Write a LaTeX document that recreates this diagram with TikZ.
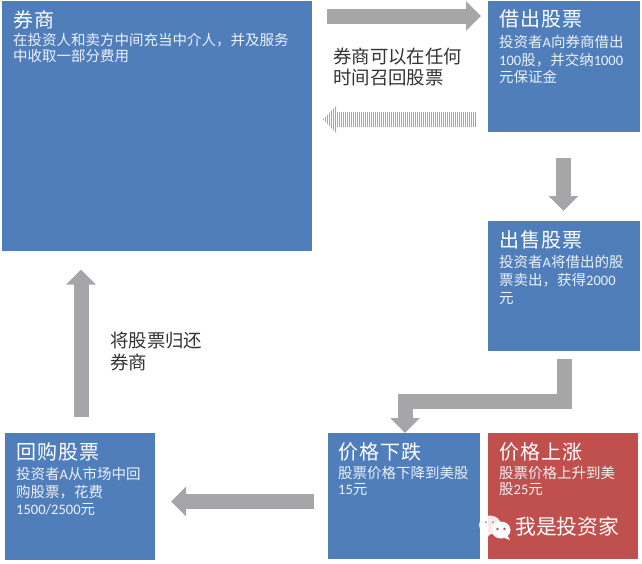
\documentclass[tikz,border=0pt]{standalone}
\usepackage{fontspec}
\setmainfont{Noto Sans CJK SC}
\newfontfamily\latinf{Carlito}
\usetikzlibrary{arrows.meta}
\definecolor{boxblue}{RGB}{79,126,187}
\definecolor{boxred}{RGB}{192,80,77}
\definecolor{arrowgray}{RGB}{166,166,168}
\newcommand{\lat}[1]{{\latinf #1}}
\newcommand{\ttl}[1]{{\fontsize{20}{22}\selectfont\addfontfeature{LetterSpace=5}\color{white}#1\par}}
% width, height, leading, title, body
\newcommand{\panelbody}[5]{\begin{minipage}[t][#2pt][t]{#1pt}\setlength{\parindent}{0pt}\vspace{9pt}\ttl{#4}\vspace{3pt}\fontsize{14.5}{#3}\selectfont\color{white!90!boxblue}#5\par\end{minipage}}
\tikzset{
  x=1pt,y=-1pt,
  panel/.style={anchor=north west,fill=boxblue,inner xsep=11pt,inner ysep=0pt,align=left},
  redpanel/.style={panel,fill=boxred},
  flow/.style={draw=arrowgray,line width=15pt,line join=miter,-{Triangle[length=15pt,width=29pt]}},
  lbl/.style={anchor=north west,align=left,text=black!80,inner sep=0pt},
  wm/.style={anchor=west,text=white,inner sep=0pt,font=\fontsize{20.8}{22}\selectfont}
}
\begin{document}
\begin{tikzpicture}
\useasboundingbox (0,0) rectangle (642,563);
\node[panel] (broker) at (2,1) {\panelbody{288}{250}{15.7}{券商}{在投资人和卖方中间充当中介人，并及服务\\中收取一部分费用}};
\node[panel] (borrow) at (488,1) {\panelbody{130}{131}{17.6}{借出股票}{投资者\lat{A}向券商借出\\\lat{100}股，并交纳\lat{1000}\\元保证金}};
\node[panel] (sell) at (488,221) {\panelbody{130}{130}{17.8}{出售股票}{投资者\lat{A}将借出的股\\票卖出，获得\lat{2000}\\元}};
\node[panel,inner xsep=10pt] (fall) at (328,433) {\panelbody{132}{126}{16.2}{价格下跌}{股票价格下降到美股\\\lat{15}元}};
\node[redpanel] (rise) at (488,433) {\panelbody{128}{126}{16.2}{价格上涨}{股票价格上升到美\\股\lat{25}元}};
\node[panel] (buy) at (5,433) {\panelbody{128}{127}{17.6}{回购股票}{投资者\lat{A}从市场中回\\购股票，花费\\\lat{1500/2500}元}};
\node[lbl,font=\fontsize{18.4}{20.5}\selectfont] (recall) at (333,48) {券商可以在任何\\时间召回股票};
\node[lbl,font=\fontsize{18.4}{22}\selectfont] (ret) at (110,332) {将股票归还\\券商};
\node[wm] (mark) at (515,527) {我是投资家};
\coordinate (a1) at (327,16); \coordinate (a2) at (481,16);
\coordinate (b1) at (476,119.5); \coordinate (b2) at (323,119.5);
\coordinate (c1) at (563.5,158); \coordinate (c2) at (563.5,211);
\coordinate (d1) at (564,359); \coordinate (d2) at (564,401); \coordinate (d3) at (405,401); \coordinate (d4) at (405,433);
\coordinate (e1) at (314,501.5); \coordinate (e2) at (171,501.5);
\coordinate (f1) at (81,417); \coordinate (f2) at (81,269.5);
\draw[flow] (a1) -- (a2);
\draw[flow] (c1) -- (c2);
\draw[flow] (d1) -- (d2) -- (d3) -- (d4);
\draw[flow] (e1) -- (e2);
\draw[flow] (f1) -- (f2);
\begin{scope}
  \clip (476,112) -- (337,112) -- (337,105) -- (323,119.5) -- (337,134) -- (337,127) -- (476,127) -- cycle;
  \draw[arrowgray,line width=30pt,dash pattern=on 1pt off 1pt] (b1) -- (b2);
\end{scope}
\fill[white,opacity=.88] (490,525) ellipse (11pt and 9.5pt);
\fill[white,opacity=.88] (483,532) -- (486,539) -- (491,533) -- cycle;
\fill[white] (501,530) ellipse (9.5pt and 8.5pt);
\fill[white] (507,535) -- (510,540) -- (502,537) -- cycle;
\fill[boxred] (497.5,529) circle (1.3pt) (504.5,529) circle (1.3pt);
\fill[black!45] (486,522) circle (1pt) (493,522) circle (1pt);
\end{tikzpicture}
\end{document}
